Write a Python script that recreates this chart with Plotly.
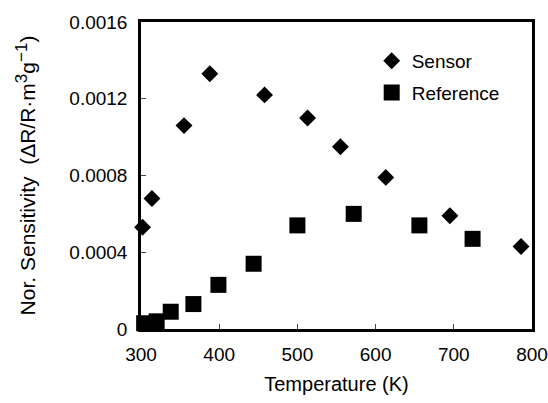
import plotly.graph_objects as go

sensor_T = [302, 314, 355, 388, 458, 513, 555, 613, 695, 786]
sensor_S = [0.00053, 0.00068, 0.00106, 0.00133, 0.00122, 0.00110, 0.00095, 0.00079, 0.00059, 0.00043]

ref_T = [304, 320, 338, 367, 399, 444, 500, 572, 656, 724]
ref_S = [0.00003, 0.00004, 0.00009, 0.00013, 0.00023, 0.00034, 0.00054, 0.00060, 0.00054, 0.00047]

y_ticks = [0, 0.0004, 0.0008, 0.0012, 0.0016]
y_labels = ["0", "0.0004", "0.0008", "0.0012", "0.0016"]
x_ticks = [300, 400, 500, 600, 700, 800]

FONT = "Liberation Sans, Arial, sans-serif"

fig = go.Figure()
fig.add_trace(go.Scatter(x=sensor_T, y=sensor_S, mode="markers", name="Sensor",
                         legendgroup="a",
                         marker=dict(symbol="diamond", size=13, color="black"),
                         cliponaxis=False))
fig.add_trace(go.Scatter(x=ref_T, y=ref_S, mode="markers", name="Reference",
                         legendgroup="b",
                         marker=dict(symbol="square", size=16, color="black"),
                         cliponaxis=False))

ytitle = ("Nor. Sensitivity\u00a0\u00a0(ΔR/R·m<sup><span style='font-size:17px'>3</span></sup>"
          "g<sup><span style='font-size:17px'>−1</span></sup>)")

fig.update_layout(
    width=548, height=403,
    margin=dict(l=141, r=16, t=22, b=74),
    paper_bgcolor="white", plot_bgcolor="white",
    font=dict(family=FONT, size=19, color="black"),
    showlegend=True,
    legend=dict(x=0.59, y=0.935, xanchor="left", yanchor="top",
                bgcolor="rgba(0,0,0,0)", font=dict(size=19),
                itemwidth=30, traceorder="grouped", tracegroupgap=4),
    xaxis=dict(range=[300, 800], tickvals=x_ticks, ticks="inside", ticklen=5,
               showgrid=False, zeroline=False, showline=True, linecolor="black",
               linewidth=2.5, mirror=True, tickfont=dict(size=19), automargin=False,
               ticklabelstandoff=6,
               title=dict(text="Temperature (K)", font=dict(size=20), standoff=14)),
    yaxis=dict(range=[0, 0.0016], tickvals=y_ticks, ticktext=y_labels, ticks="inside",
               ticklen=5, showgrid=False, zeroline=False, showline=True,
               linecolor="black", linewidth=2.5, mirror=True, tickfont=dict(size=19),
               automargin=False, ticklabelstandoff=7,
               title=dict(text=ytitle, font=dict(size=21), standoff=28)),
)

fig.write_html("out.html", config={"displayModeBar": False},
               post_script="document.body.style.margin='0';document.body.style.overflow='hidden';")
